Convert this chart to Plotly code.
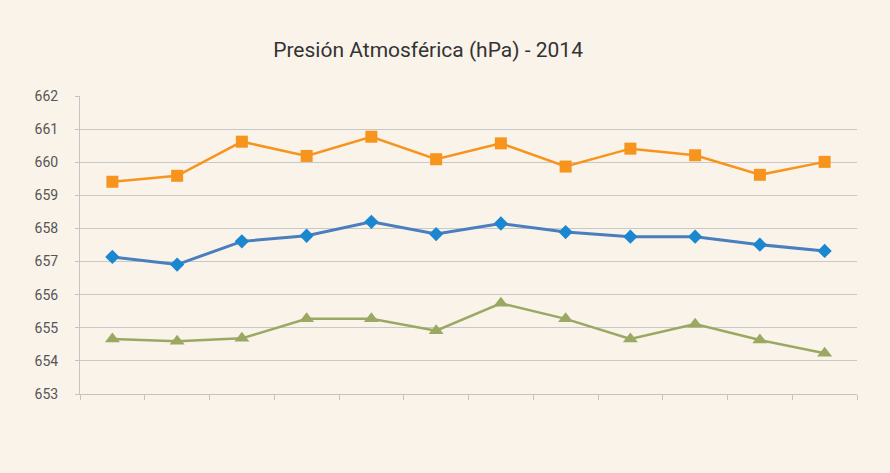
import plotly.graph_objects as go

months = [0.5, 1.5, 2.5, 3.5, 4.5, 5.5, 6.5, 7.5, 8.5, 9.5, 10.5, 11.5]
orange_vals = [659.41, 659.59, 660.62, 660.19, 660.77, 660.09, 660.57, 659.87, 660.41, 660.21, 659.62, 660.01]
blue_vals = [657.14, 656.91, 657.61, 657.78, 658.20, 657.83, 658.15, 657.89, 657.75, 657.75, 657.51, 657.32]
green_vals = [654.66, 654.59, 654.68, 655.27, 655.27, 654.91, 655.74, 655.27, 654.66, 655.11, 654.63, 654.23]
y_ticks = [653, 654, 655, 656, 657, 658, 659, 660, 661, 662]

BG = "#F9F3EA"

fig = go.Figure()
fig.add_trace(go.Scatter(x=months, y=orange_vals, mode="lines+markers",
                         line=dict(color="#F7941D", width=2.5),
                         marker=dict(symbol="square", size=12, color="#F7941D")))
fig.add_trace(go.Scatter(x=months, y=blue_vals, mode="lines+markers",
                         line=dict(color="#4A7EBF", width=3),
                         marker=dict(symbol="diamond", size=11, color="#1B87D0")))
fig.add_trace(go.Scatter(x=months, y=green_vals, mode="lines+markers",
                         line=dict(color="#9BA862", width=2.5),
                         marker=dict(symbol="triangle-up", size=13, color="#9BA862")))

fig.update_layout(
    width=890, height=473,
    paper_bgcolor=BG, plot_bgcolor=BG,
    margin=dict(l=80, r=33, t=96, b=79),
    showlegend=False,
    font=dict(family="Roboto", color="#555555"),
    title=dict(text="Presión Atmosférica (hPa) - 2014", x=0.481, xref="container",
               xanchor="center", y=0.895, yref="container", yanchor="middle",
               font=dict(family="Roboto", size=21, color="#333333")),
    xaxis=dict(range=[0, 12], tickvals=list(range(13)), showticklabels=False,
               ticks="outside", ticklen=5, tickcolor="#C4C4C4", tickwidth=1,
               showgrid=False, zeroline=False, showline=True, linecolor="#C4C4C4",
               linewidth=1, fixedrange=True),
    yaxis=dict(range=[653, 662], tickvals=y_ticks, ticks="outside", ticklen=4,
               tickcolor="#C4C4C4", showgrid=True, gridcolor="#C8C8C8", gridwidth=1.3,
               zeroline=False, showline=True, linecolor="#C4C4C4", linewidth=1,
               tickfont=dict(size=14, color="#555555"), ticklabelstandoff=14),
)

fig.write_html("out.html", config={"displayModeBar": False},
               post_script="document.body.style.margin='0';document.body.style.background='" + BG + "';")
